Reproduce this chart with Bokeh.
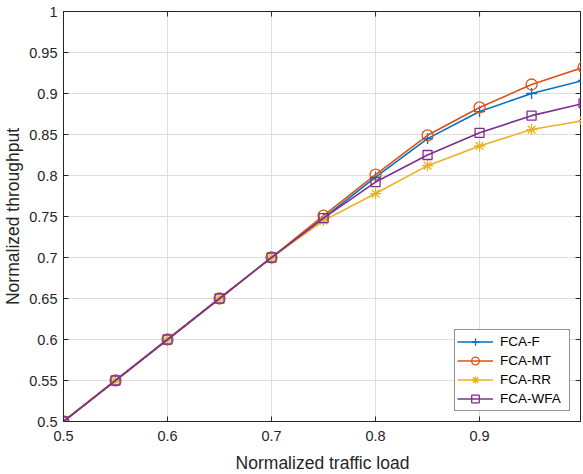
import math
from bokeh.plotting import figure
from bokeh.models import FixedTicker, Legend, LegendItem
from bokeh.embed import file_html
from bokeh.resources import INLINE

# ---- data ----
load = [0.5, 0.55, 0.6, 0.65, 0.7, 0.75, 0.8, 0.85, 0.9, 0.95, 1.0]
fca_f = [0.5, 0.55, 0.6, 0.65, 0.7, 0.748, 0.798, 0.845, 0.878, 0.900, 0.916]
fca_mt = [0.5, 0.55, 0.6, 0.65, 0.7, 0.751, 0.801, 0.849, 0.883, 0.911, 0.932]
fca_rr = [0.5, 0.55, 0.6, 0.65, 0.7, 0.745, 0.778, 0.812, 0.836, 0.856, 0.867]
fca_wfa = [0.5, 0.55, 0.6, 0.65, 0.7, 0.748, 0.792, 0.825, 0.852, 0.873, 0.888]
series_names = ["FCA-F", "FCA-MT", "FCA-RR", "FCA-WFA"]

x_ticks = [0.5, 0.6, 0.7, 0.8, 0.9, 1.0]
x_tick_labels = ["0.5", "0.6", "0.7", "0.8", "0.9", "1"]
y_ticks = [0.5, 0.55, 0.6, 0.65, 0.7, 0.75, 0.8, 0.85, 0.9, 0.95, 1.0]
y_tick_labels = ["0.5", "0.55", "0.6", "0.65", "0.7", "0.75", "0.8", "0.85", "0.9", "0.95", "1"]

colors = ["#0072BD", "#D95319", "#EDB120", "#7E2F8E"]
markers = ["cross", "circle", "asterisk", "square"]
msizes = [11, 11, 11, 9]

FONT = "Liberation Sans"
TXT = "#262626"

p = figure(frame_width=518, frame_height=410, output_backend="svg", toolbar_location=None,
           x_range=(0.5, 0.998), y_range=(0.5, 1.0),
           min_border_left=57, min_border_top=11, min_border_right=0, min_border_bottom=53)
p.outline_line_color = TXT
p.outline_line_width = 1
p.background_fill_color = "white"
p.border_fill_color = "white"

def style_axis(ax, ticks, labels):
    ax.ticker = FixedTicker(ticks=ticks)
    ax.major_label_overrides = {t: l for t, l in zip(ticks, labels)}
    ax.major_tick_in = 5
    ax.major_tick_out = 0
    ax.minor_tick_line_color = None
    ax.axis_line_color = TXT
    ax.major_tick_line_color = TXT
    ax.major_label_text_font = FONT
    ax.major_label_text_color = TXT
    ax.major_label_text_font_size = "14.5px"
    ax.axis_label_text_font = FONT
    ax.axis_label_text_font_style = "normal"
    ax.axis_label_text_color = TXT
    ax.axis_label_text_font_size = "17.5px"

style_axis(p.xaxis[0], x_ticks, x_tick_labels)
style_axis(p.yaxis[0], y_ticks, y_tick_labels)
p.xaxis[0].axis_label = "Normalized traffic load"
p.yaxis[0].axis_label = "Normalized throughput"
p.xaxis[0].major_label_standoff = 9
p.xaxis[0].axis_label_standoff = 9
p.yaxis[0].major_label_standoff = 6
p.yaxis[0].axis_label_standoff = 3

p.xgrid.ticker = FixedTicker(ticks=x_ticks)
p.ygrid.ticker = FixedTicker(ticks=y_ticks)
p.xgrid.grid_line_color = "#dedede"
p.ygrid.grid_line_color = "#dedede"

# box ticks on top and right edges (clipped to the frame, so only the inner half shows)
p.scatter(x_ticks, [y_ticks[-1]] * len(x_ticks), marker="dash", angle=math.pi / 2,
          size=10, line_color=TXT, line_width=1)
p.scatter([x_ticks[-1]] * len(y_ticks), y_ticks, marker="dash",
          size=16, line_color=TXT, line_width=1)

items = []
for name, ys, c, m, s in zip(series_names, [fca_f, fca_mt, fca_rr, fca_wfa], colors, markers, msizes):
    r1 = p.line(load, ys, line_color=c, line_width=1.6)
    r2 = p.scatter(load, ys, marker=m, size=s, line_color=c, fill_color=None, line_width=1.3)
    items.append(LegendItem(label=name, renderers=[r1, r2]))

legend = Legend(items=items, location=(391, 10))
legend.label_text_font = FONT
legend.label_text_font_size = "13.5px"
legend.label_text_color = "black"
legend.label_height = 19
legend.label_width = 67
legend.glyph_height = 19
legend.glyph_width = 36
legend.spacing = 0
legend.padding = 2
legend.margin = 0
legend.label_standoff = 7
legend.border_line_color = TXT
legend.border_line_width = 1
legend.background_fill_alpha = 1
p.add_layout(legend, "center")

open("out.html", "w").write(file_html(p, INLINE))
